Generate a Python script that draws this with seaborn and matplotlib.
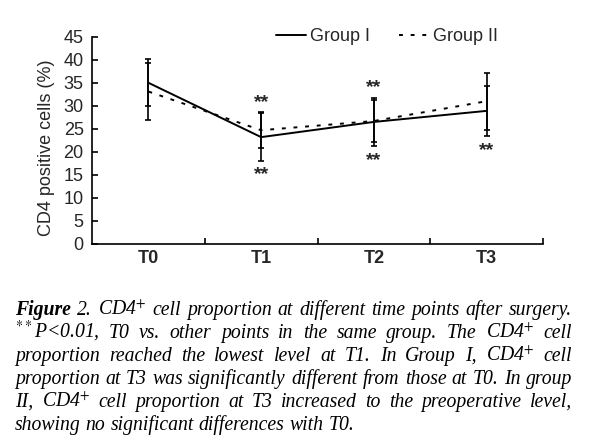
import matplotlib
matplotlib.use("Agg")
import matplotlib.pyplot as plt
import numpy as np
import pandas as pd
import seaborn as sns
from matplotlib.ticker import FixedLocator

# ---------------- data ----------------
time_points = ["T0", "T1", "T2", "T3"]
group1_mean = [35.0, 23.2, 26.5, 28.9]
group1_sd = [5.1, 5.2, 5.3, 5.5]
group2_mean = [33.1, 24.7, 26.7, 31.0]
group2_sd = [6.1, 3.9, 4.6, 6.2]
# significance (T0 vs. other points): marks above / below the error bars
sig_above = [False, True, True, False]
sig_below = [False, True, True, True]
group_names = ["Group I", "Group II"]
y_ticks = [0, 5, 10, 15, 20, 25, 30, 35, 40, 45]

caption_lines = [
    "Figure 2. CD4$^{+}$ cell proportion at different time points after surgery.",
    "$^{**}$P<0.01, T0 vs. other points in the same group. The CD4$^{+}$ cell",
    "proportion reached the lowest level at T1. In Group I, CD4$^{+}$ cell",
    "proportion at T3 was significantly different from those at T0. In group",
    "II, CD4$^{+}$ cell proportion at T3 increased to the preoperative level,",
    "showing no significant differences with T0.",
]

# ---------------- style ----------------
sns.set_theme(style="ticks")
plt.rcParams['font.family'] = ['Liberation Sans', 'DejaVu Sans']
plt.rcParams['mathtext.fontset'] = 'stix'
plt.rcParams['axes.edgecolor'] = 'black'
plt.rcParams['axes.linewidth'] = 1.2

W, H = 599, 448
fig = plt.figure(figsize=(W / 100, H / 100), dpi=100)
ax_left, ax_right, ax_bottom, ax_top = 92, 543, 244, 36.7
ax = fig.add_axes([ax_left / W, 1 - ax_bottom / H, (ax_right - ax_left) / W, (ax_bottom - ax_top) / H])

pos = list(range(len(time_points)))
df = pd.DataFrame({
    "pos": pos * 2,
    "Mean": group1_mean + group2_mean,
    "Group": [group_names[0]] * 4 + [group_names[1]] * 4,
})
sns.lineplot(data=df, x="pos", y="Mean", style="Group",
             dashes={group_names[0]: "", group_names[1]: (2, 4)},
             color="black", linewidth=1.4, ax=ax, legend=True)

ax.errorbar(pos, group1_mean, yerr=group1_sd, fmt='none', ecolor='black',
            elinewidth=1.2, capsize=2, capthick=1.2)
ax.errorbar(pos, group2_mean, yerr=group2_sd, fmt='none', ecolor='black',
            elinewidth=1.2, capsize=2, capthick=1.2)

tops = [max(a + b, c + d) for a, b, c, d in zip(group1_mean, group1_sd, group2_mean, group2_sd)]
bots = [min(a - b, c - d) for a, b, c, d in zip(group1_mean, group1_sd, group2_mean, group2_sd)]
for i in pos:
    if sig_above[i]:
        ax.annotate("**", (i, tops[i]), xytext=(0, 7), textcoords='offset points',
                    ha='center', va='center', fontsize=14, fontweight='bold')
    if sig_below[i]:
        ax.annotate("**", (i, bots[i]), xytext=(0, -10), textcoords='offset points',
                    ha='center', va='center', fontsize=14, fontweight='bold')

ax.set_xlim(-0.5, 3.5)
ax.set_ylim(0, 45)
ax.set_xticks(pos)
ax.set_xticklabels(time_points, fontsize=13, fontweight='bold')
ax.xaxis.set_minor_locator(FixedLocator([0.5, 1.5, 2.5, 3.5]))
ax.tick_params(axis='x', which='major', length=0, pad=4)
ax.tick_params(axis='x', which='minor', direction='in', length=4, width=1.2, color='black')
ax.set_yticks(y_ticks)
ax.tick_params(axis='y', which='major', direction='in', length=4, width=1.2, labelsize=13, pad=6, color='black')
ax.set_xlabel("")
ax.set_ylabel("CD4 positive cells (%)", fontsize=13)
ax.yaxis.set_label_coords(-0.083, 0.463)
for s in ["top", "right"]:
    ax.spines[s].set_visible(False)

handles, labels = ax.get_legend_handles_labels()
leg = ax.legend(handles, labels, loc='center', bbox_to_anchor=(0.654, 1.0), ncol=2,
                frameon=False, fontsize=13, handlelength=1.7, handletextpad=0.2,
                columnspacing=1.6)

# ---------------- caption (justified) ----------------
cap_left, cap_right = 15, 572
baselines = [315, 338, 361, 384, 407, 430]
cap_size = 14.2
renderer = fig.canvas.get_renderer()
for li, (line, base) in enumerate(zip(caption_lines, baselines)):
    words = line.split(" ")
    texts = []
    for w in words:
        t = fig.text(0, 1 - base / H, w, fontsize=cap_size, fontstyle='italic',
                     fontweight='bold' if w == "Figure" else 'normal',
                     family=['Liberation Serif', 'DejaVu Serif'], va='baseline', ha='left',
                     color='black')
        texts.append(t)
    widths = [t.get_window_extent(renderer).width for t in texts]
    total = sum(widths)
    if li < len(caption_lines) - 1 and len(words) > 1:
        gap = (cap_right - cap_left - total) / (len(words) - 1)
    else:
        gap = cap_size * 100 / 72 * 0.25
    x = cap_left
    for t, w in zip(texts, widths):
        t.set_x(x / W)
        x += w + gap

fig.savefig("out.png", dpi=100)
